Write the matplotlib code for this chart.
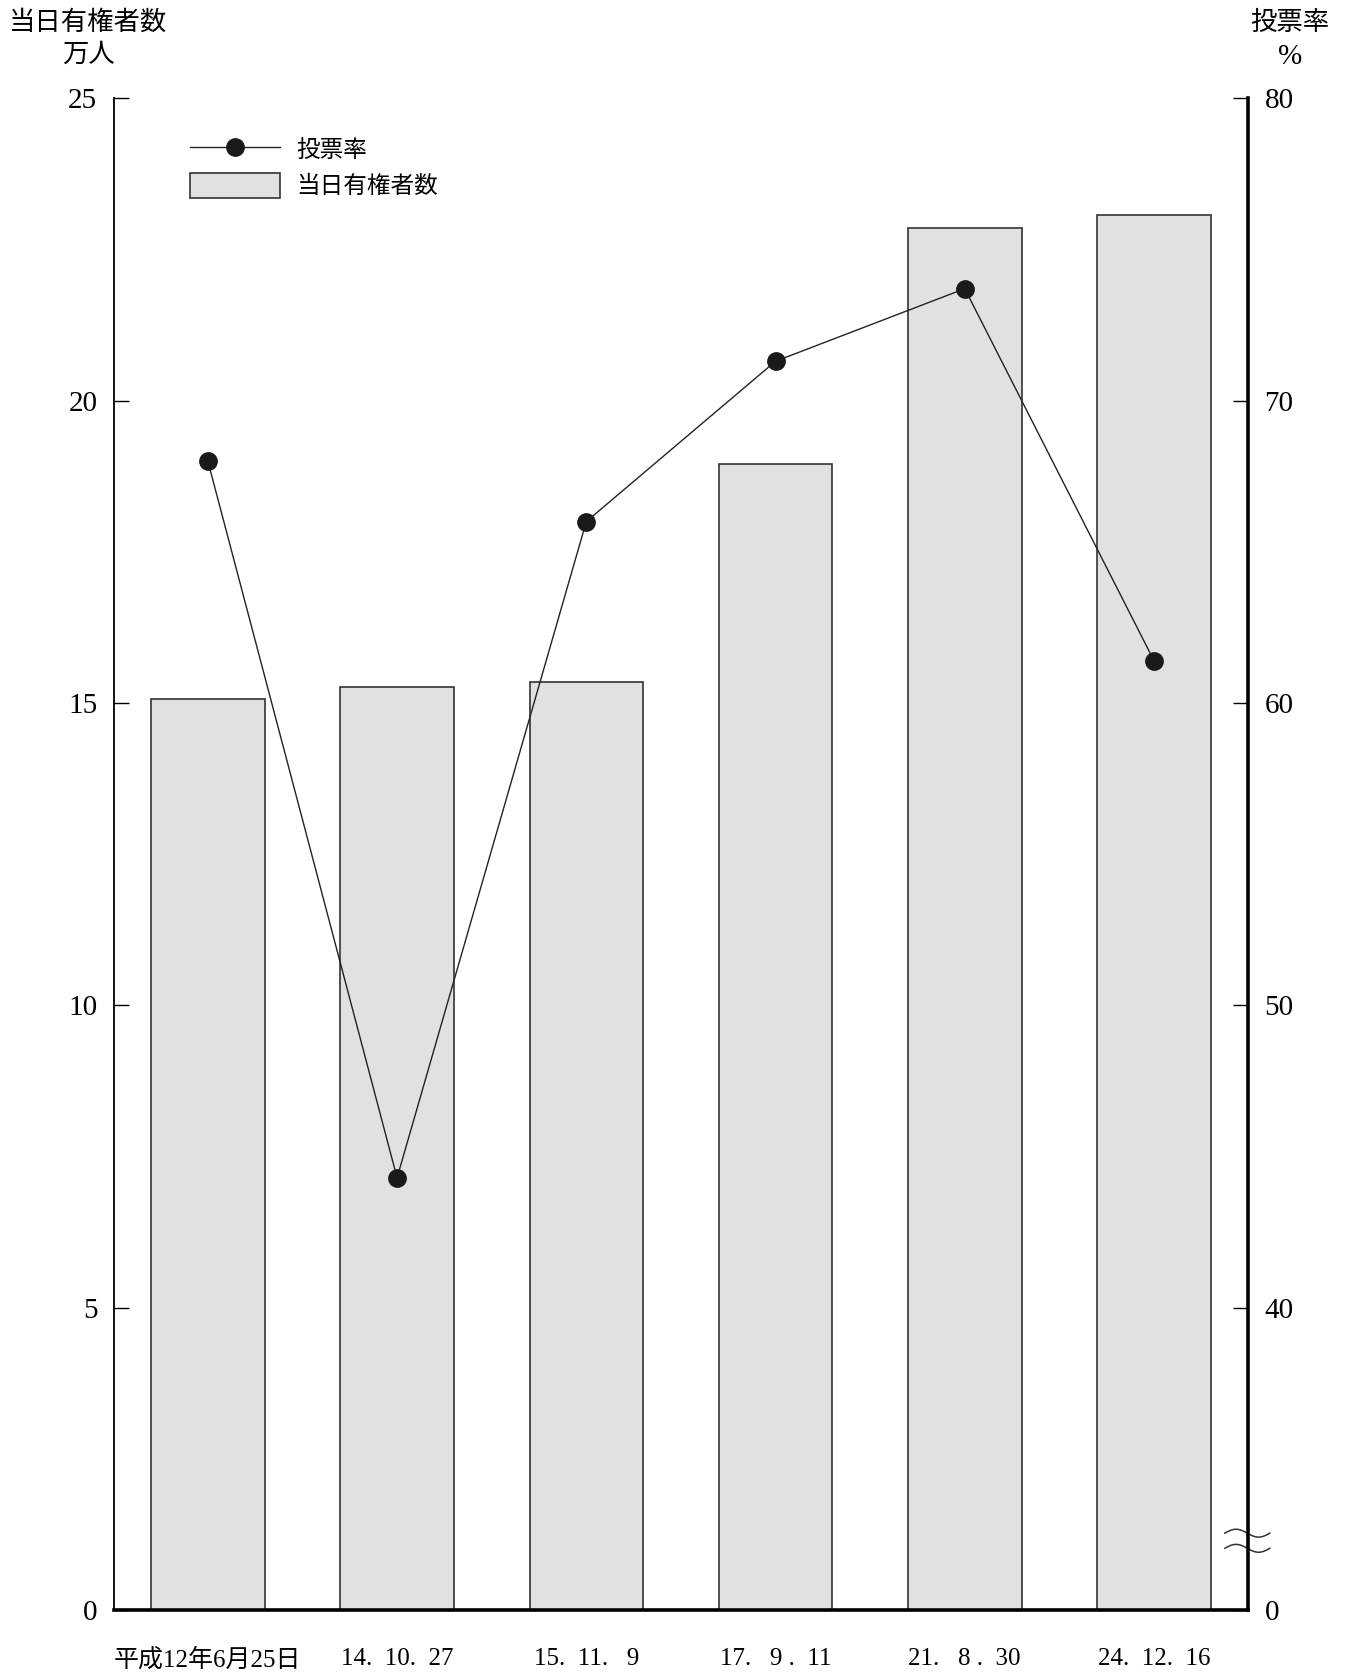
import numpy as np
import matplotlib
matplotlib.use("Agg")
from matplotlib import pyplot as plt
from matplotlib.patches import Patch
from matplotlib.lines import Line2D

# data
dates = ["平成12年6月25日", "14.  10.  27", "15.  11.   9",
         "17.   9 .  11", "21.   8 .  30", "24.  12.  16"]
voters = [15.07, 15.27, 15.34, 18.95, 22.85, 23.06]      # 万人
turnout = [68.0, 44.3, 66.0, 71.3, 73.7, 61.4]           # %

left_ticks = [0, 5, 10, 15, 20, 25]
right_ticks = [30, 40, 50, 60, 70, 80]
right_tick_labels = ["0", "40", "50", "60", "70", "80"]

plt.rcParams['font.family'] = ['Liberation Serif', 'Noto Sans CJK JP']
plt.rcParams['font.size'] = 15

fig = plt.figure(figsize=(13.49, 16.72), dpi=100)
ax = fig.add_axes([0.0845, 0.0369, 0.8405, 0.9044])
ax2 = ax.twinx()

x = np.arange(len(dates))
ax.bar(x, voters, width=0.6, color="#e0e1e3", edgecolor="#333333", linewidth=1.2)
ax.set_xlim(-0.496, len(dates) - 1 + 0.496)
ax.set_ylim(0, 25)
ax.set_yticks(left_ticks)
ax.set_xticks(x)
ax.set_xticklabels(dates, fontsize=18)
ax.tick_params(axis="x", length=0, pad=27)
ax.tick_params(axis="y", direction="in", length=11, width=1, pad=12, labelsize=21)

ax2.plot(x, turnout, color="#222222", linewidth=1, marker="o",
         markersize=12.5, markerfacecolor="#1a1a1a", markeredgecolor="#1a1a1a")
ax2.set_ylim(30, 80)
ax2.set_yticks(right_ticks)
ax2.set_yticklabels(right_tick_labels)
ax2.tick_params(axis="y", direction="in", length=11, width=1, pad=12, labelsize=21)

for a in (ax, ax2):
    a.spines["top"].set_visible(False)
ax.spines["left"].set_linewidth(1.3)
ax.spines["bottom"].set_linewidth(2.6)
ax2.spines["bottom"].set_visible(False)
ax2.spines["left"].set_visible(False)
ax2.spines["right"].set_linewidth(2.6)
ax.spines["right"].set_visible(False)

# break mark on the right axis
trans = ax2.get_yaxis_transform()
wx = np.linspace(0.9797, 1.0194, 60)
for y0 in (32.55, 32.05):
    wy = y0 + 0.13 * np.sin((wx - wx[0]) / (wx[-1] - wx[0]) * 2 * np.pi)
    ax2.plot(wx, wy, color="#333333", linewidth=1.1, transform=trans, clip_on=False)

# axis titles
fig.text(88 / 1349, 1 - 22 / 1672, "当日有権者数", ha="center", va="center", fontsize=19)
fig.text(88 / 1349, 1 - 55 / 1672, "万人", ha="center", va="center", fontsize=19)
fig.text(1290 / 1349, 1 - 23 / 1672, "投票率", ha="center", va="center", fontsize=19)
fig.text(1290 / 1349, 1 - 57 / 1672, "%", ha="center", va="center", fontsize=21)

handles = [
    Line2D([0], [0], color="#222222", linewidth=1, marker="o", markersize=12.5,
           markerfacecolor="#1a1a1a", markeredgecolor="#1a1a1a"),
    Patch(facecolor="#e0e1e3", edgecolor="#333333", linewidth=1.2),
]
ax2.legend(handles, ["投票率", "当日有権者数"], loc="upper left",
           bbox_to_anchor=(76 / 1134, 0.9745), frameon=False, fontsize=17,
           handlelength=3.8, handleheight=1.25, handletextpad=0.7,
           labelspacing=0.45, borderpad=0, borderaxespad=0)

fig.savefig("out.png", dpi=100)
